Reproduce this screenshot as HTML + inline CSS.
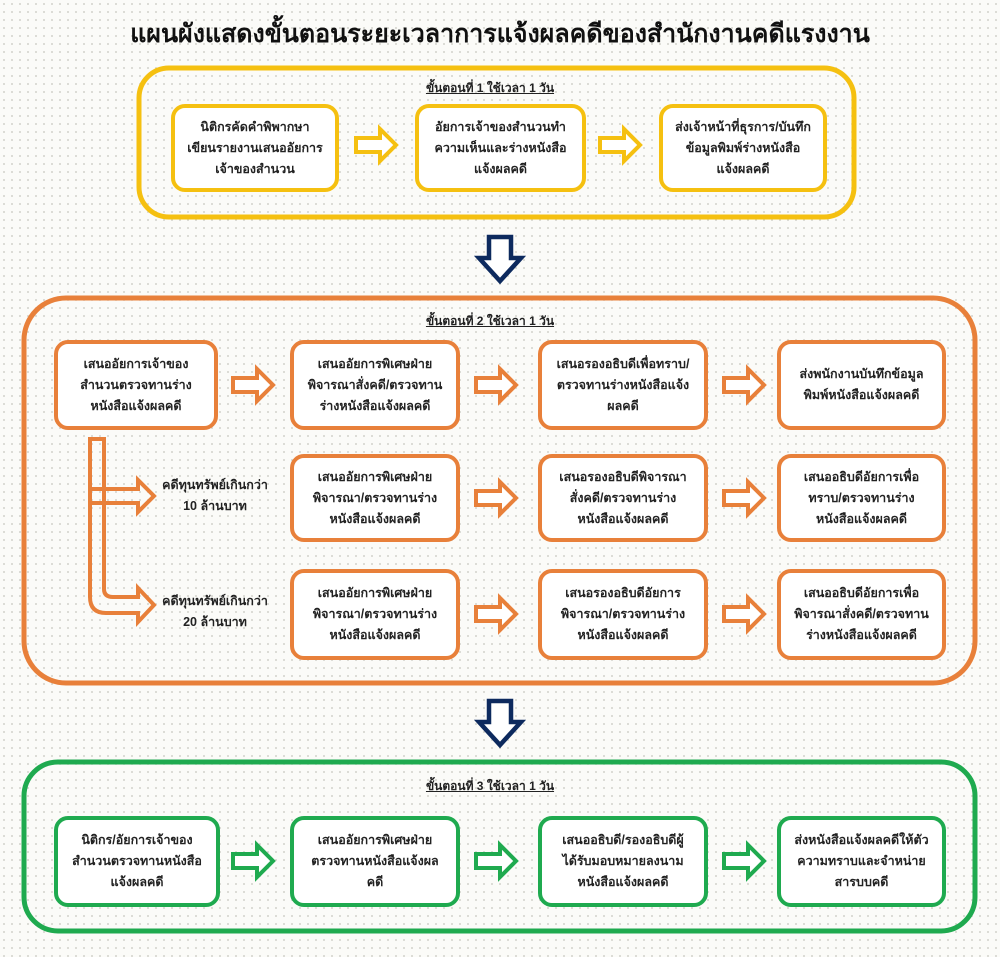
<!DOCTYPE html>
<html><head><meta charset="utf-8"><style>
body{margin:0;width:1000px;height:957px;overflow:hidden;background:#fbfbf8;background-image:radial-gradient(#d2d2ca 0.8px,transparent 0.9px);background-size:8px 8px;font-family:"Liberation Sans","DejaVu Sans",sans-serif;}
.t{position:absolute;text-align:center;font-weight:bold;font-size:12.5px;line-height:21px;color:#222;display:flex;align-items:center;justify-content:center;}
.lab{position:absolute;font-weight:bold;font-size:12px;text-decoration:underline;color:#222;text-align:center;width:300px;}
</style></head><body>
<div style="position:absolute;left:0;width:1000px;top:14px;text-align:center;font-weight:bold;font-size:25px;color:#111;">แผนผังแสดงขั้นตอนระยะเวลาการแจ้งผลคดีของสำนักงานคดีแรงงาน</div>
<svg width="1000" height="957" style="position:absolute;left:0;top:0">
<defs>
<g id="ra"><path d="M0,-7 H24 V-16 L40,0 L24,16 V7 H0 Z" fill="#fff" stroke-width="4" stroke-linejoin="miter"/></g>
</defs>
<g fill="none">
<rect x="139" y="68" width="715" height="149" rx="30" stroke="#f5c010" stroke-width="5"/>
<rect x="173" y="106" width="164" height="84" rx="12" stroke="#f5c010" stroke-width="4" fill="#fff"/>
<rect x="417" y="106" width="167" height="84" rx="12" stroke="#f5c010" stroke-width="4" fill="#fff"/>
<rect x="661" y="106" width="164" height="84" rx="12" stroke="#f5c010" stroke-width="4" fill="#fff"/>
<rect x="24" y="298" width="951" height="385" rx="42" stroke="#e8803a" stroke-width="5"/>
<rect x="24" y="762" width="951" height="169" rx="34" stroke="#1faa4f" stroke-width="5"/>
</g>
<g stroke="#e8803a" stroke-width="4" fill="#fff">
<rect x="56" y="342" width="160" height="86" rx="12"/>
<rect x="292" y="342" width="166" height="86" rx="12"/>
<rect x="540" y="342" width="166" height="86" rx="12"/>
<rect x="779" y="342" width="165" height="86" rx="12"/>
<rect x="292" y="456" width="166" height="84" rx="12"/>
<rect x="540" y="456" width="166" height="84" rx="12"/>
<rect x="779" y="456" width="165" height="84" rx="12"/>
<rect x="292" y="571" width="166" height="87" rx="12"/>
<rect x="540" y="571" width="166" height="87" rx="12"/>
<rect x="779" y="571" width="165" height="87" rx="12"/>
</g>
<g stroke="#1faa4f" stroke-width="4" fill="#fff">
<rect x="56" y="818" width="162" height="87" rx="12"/>
<rect x="292" y="818" width="166" height="87" rx="12"/>
<rect x="540" y="818" width="166" height="87" rx="12"/>
<rect x="779" y="818" width="165" height="87" rx="12"/>
</g>
<g stroke="#f5c010"><use href="#ra" x="356" y="145"/><use href="#ra" x="600" y="145"/></g>
<g stroke="#e8803a">
<use href="#ra" x="233" y="385"/><use href="#ra" x="476" y="385"/><use href="#ra" x="724" y="385"/>
<use href="#ra" x="476" y="498"/><use href="#ra" x="724" y="498"/>
<use href="#ra" x="476" y="614"/><use href="#ra" x="724" y="614"/>
<path d="M90,439 H104 V589 Q104,597 113,597 H138 V588 L154,605 L138,622 V613 H106 Q90,613 90,597 Z" fill="none" stroke-width="4" stroke-linejoin="miter"/>
<path d="M90,489 H138 V480 L154,496 L138,512 V503 H90" fill="none" stroke-width="4" stroke-linejoin="miter"/>
</g>
<g stroke="#1faa4f">
<use href="#ra" x="233" y="861"/><use href="#ra" x="476" y="861"/><use href="#ra" x="724" y="861"/>
</g>
<g stroke="#0d2a5e" stroke-width="4.5" fill="#fff">
<path d="M489,237 H511 V258 H521 L500,281 L479,258 H489 Z"/>
<path d="M489,701 H511 V722 H521 L500,745 L479,722 H489 Z"/>
</g>
</svg>
<div class="lab" style="left:340px;top:79px">ขั้นตอนที่ 1 ใช้เวลา 1 วัน</div>
<div class="lab" style="left:340px;top:312px">ขั้นตอนที่ 2 ใช้เวลา 1 วัน</div>
<div class="lab" style="left:340px;top:777px">ขั้นตอนที่ 3 ใช้เวลา 1 วัน</div>

<div class="t" style="left:173px;top:106px;width:164px;height:84px">นิติกรคัดคำพิพากษา<br>เขียนรายงานเสนออัยการ<br>เจ้าของสำนวน</div>
<div class="t" style="left:417px;top:106px;width:167px;height:84px">อัยการเจ้าของสำนวนทำ<br>ความเห็นและร่างหนังสือ<br>แจ้งผลคดี</div>
<div class="t" style="left:661px;top:106px;width:164px;height:84px">ส่งเจ้าหน้าที่ธุรการ/บันทึก<br>ข้อมูลพิมพ์ร่างหนังสือ<br>แจ้งผลคดี</div>

<div class="t" style="left:56px;top:342px;width:160px;height:86px">เสนออัยการเจ้าของ<br>สำนวนตรวจทานร่าง<br>หนังสือแจ้งผลคดี</div>
<div class="t" style="left:292px;top:342px;width:166px;height:86px">เสนออัยการพิเศษฝ่าย<br>พิจารณาสั่งคดี/ตรวจทาน<br>ร่างหนังสือแจ้งผลคดี</div>
<div class="t" style="left:540px;top:342px;width:166px;height:86px">เสนอรองอธิบดีเพื่อทราบ/<br>ตรวจทานร่างหนังสือแจ้ง<br>ผลคดี</div>
<div class="t" style="left:779px;top:342px;width:165px;height:86px">ส่งพนักงานบันทึกข้อมูล<br>พิมพ์หนังสือแจ้งผลคดี</div>

<div class="t" style="left:150px;top:472px;width:130px;height:48px">คดีทุนทรัพย์เกินกว่า<br>10 ล้านบาท</div>
<div class="t" style="left:292px;top:456px;width:166px;height:84px">เสนออัยการพิเศษฝ่าย<br>พิจารณา/ตรวจทานร่าง<br>หนังสือแจ้งผลคดี</div>
<div class="t" style="left:540px;top:456px;width:166px;height:84px">เสนอรองอธิบดีพิจารณา<br>สั่งคดี/ตรวจทานร่าง<br>หนังสือแจ้งผลคดี</div>
<div class="t" style="left:779px;top:456px;width:165px;height:84px">เสนออธิบดีอัยการเพื่อ<br>ทราบ/ตรวจทานร่าง<br>หนังสือแจ้งผลคดี</div>

<div class="t" style="left:150px;top:588px;width:130px;height:48px">คดีทุนทรัพย์เกินกว่า<br>20 ล้านบาท</div>
<div class="t" style="left:292px;top:571px;width:166px;height:87px">เสนออัยการพิเศษฝ่าย<br>พิจารณา/ตรวจทานร่าง<br>หนังสือแจ้งผลคดี</div>
<div class="t" style="left:540px;top:571px;width:166px;height:87px">เสนอรองอธิบดีอัยการ<br>พิจารณา/ตรวจทานร่าง<br>หนังสือแจ้งผลคดี</div>
<div class="t" style="left:779px;top:571px;width:165px;height:87px">เสนออธิบดีอัยการเพื่อ<br>พิจารณาสั่งคดี/ตรวจทาน<br>ร่างหนังสือแจ้งผลคดี</div>

<div class="t" style="left:56px;top:818px;width:162px;height:87px">นิติกร/อัยการเจ้าของ<br>สำนวนตรวจทานหนังสือ<br>แจ้งผลคดี</div>
<div class="t" style="left:292px;top:818px;width:166px;height:87px">เสนออัยการพิเศษฝ่าย<br>ตรวจทานหนังสือแจ้งผล<br>คดี</div>
<div class="t" style="left:540px;top:818px;width:166px;height:87px">เสนออธิบดี/รองอธิบดีผู้<br>ได้รับมอบหมายลงนาม<br>หนังสือแจ้งผลคดี</div>
<div class="t" style="left:779px;top:818px;width:165px;height:87px">ส่งหนังสือแจ้งผลคดีให้ตัว<br>ความทราบและจำหน่าย<br>สารบบคดี</div>
</body></html>
